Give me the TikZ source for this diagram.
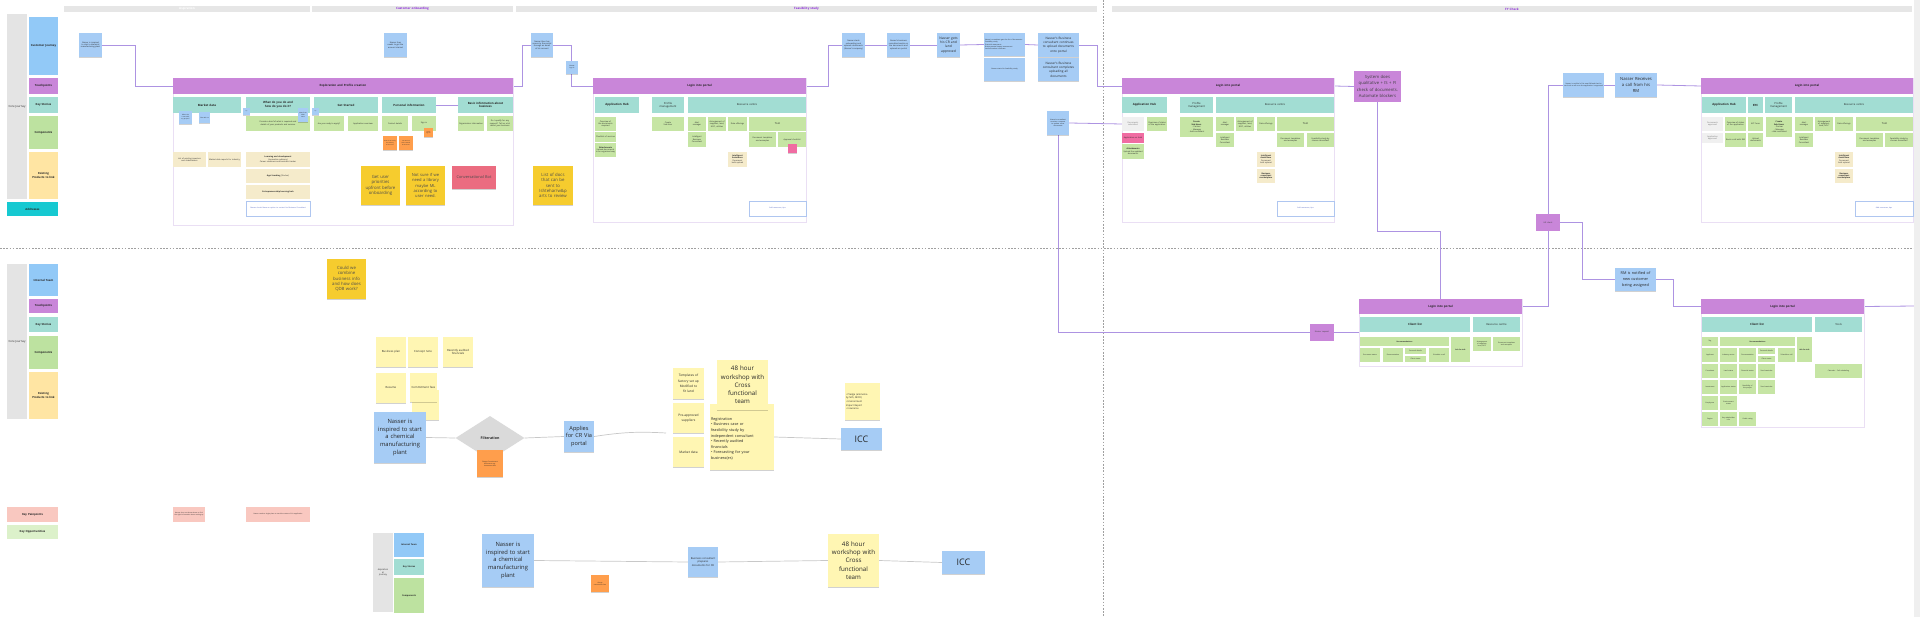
\documentclass[tikz,border=0pt]{standalone}
\usepackage{fontspec}
\setmainfont{Open Sans}
\usetikzlibrary{shapes.geometric,shadows}
\pgfdeclarelayer{bg}
\pgfsetlayers{bg,main}
\definecolor{cBlue}{HTML}{A6CCF5}
\definecolor{cLegBlue}{HTML}{92C9F7}
\definecolor{cPurp}{HTML}{C986D9}
\definecolor{cTeal}{HTML}{A2DDD3}
\definecolor{cGreen}{HTML}{C6E5A4}
\definecolor{cLegGreen}{HTML}{BDE2A0}
\definecolor{cLegYel}{HTML}{FFE5A3}
\definecolor{cBeige}{HTML}{F5EBCB}
\definecolor{cGold}{HTML}{F6CC2E}
\definecolor{cPale}{HTML}{FFF6B3}
\definecolor{cOrange}{HTML}{FF9E4C}
\definecolor{cRed}{HTML}{EB6C80}
\definecolor{cMag}{HTML}{F06CA2}
\definecolor{cPinkL}{HTML}{F9C8C0}
\definecolor{cGreenL}{HTML}{DCF1CA}
\definecolor{cGray}{HTML}{E4E4E4}
\definecolor{cGrayL}{HTML}{F0F0F0}
\definecolor{cCyan}{HTML}{16C9D1}
\definecolor{cLine}{HTML}{AD93E2}
\definecolor{cLineG}{HTML}{C8C8C8}
\definecolor{cHead}{HTML}{E6E6E6}
\definecolor{cHeadT}{HTML}{8B2BD8}
\definecolor{cFrame}{HTML}{EADFF4}
\definecolor{cOut}{HTML}{AFC6F0}
\definecolor{cOutT}{HTML}{4A5FC0}
\definecolor{cDia}{HTML}{DADADA}
\definecolor{cDash}{HTML}{A0A0A0}
\newcommand\fsz[2]{\fontsize{#1}{#2}\selectfont\lefthyphenmin=64\hyphenpenalty=10000 }
\newcommand\bx[7]{%
  \pgfmathsetmacro\bxW{#5-#3}%
  \pgfmathsetmacro\bxH{#6-#4}%
  \pgfmathsetmacro\bxX{(#3+#5)/2}%
  \pgfmathsetmacro\bxY{(#4+#6)/2}%
  \pgfmathsetmacro\bxT{max(#5-#3-2,1)}%
  \node[#1, minimum width=\bxW pt, minimum height=\bxH pt, text width=\bxT pt] (#2) at (\bxX,\bxY) {#7};}
\tikzset{
  base/.style={inner sep=1pt, align=center, text=black!85, font=\fsz{2}{2.4}},
  leg/.style={base, font=\fsz{2.8}{3.4}\bfseries},
  hbar/.style={base, fill=cHead, text=cHeadT, font=\fsz{3}{3.6}\bfseries},
  frm/.style={draw=cFrame, line width=0.7pt, inner sep=0pt},
  hdr/.style={base, fill=cPurp, font=\fsz{2.9}{3.5}\bfseries},
  tl/.style={base, fill=cTeal, font=\fsz{2.9}{3.5}\bfseries},
  tln/.style={base, fill=cTeal, font=\fsz{2.7}{3.3}},
  gr/.style={base, fill=cGreen},
  grs/.style={base, fill=cGreen, font=\fsz{1.7}{2.1}},
  gy/.style={base, fill=cGrayL, text=black!55},
  bge/.style={base, fill=cBeige},
  ob/.style={base, draw=cOut, line width=0.4pt, fill=white, text=cOutT, font=\fsz{1.8}{2.2}},
  stk/.style={base, fill=cBlue, drop shadow={shadow xshift=0.2pt, shadow yshift=-1.3pt, opacity=0.18, fill=black}},
  big/.style={stk, text=black!70, font=\fsz{4.3}{5.3}},
  pur/.style={base, fill=cPurp, text=black!75},
  conn/.style={draw=cLine, line width=0.8pt},
  gconn/.style={draw=cLineG, line width=0.7pt},
}
\begin{document}
\begin{tikzpicture}[x=1pt,y=-1pt]
\useasboundingbox (0,0) rectangle (1920,617);
\fill[cGray!60] (1914,0) rectangle (1920,617);
% ---------- phase bars
\bx{hbar, text=white}{ph1}{64}{6}{310}{12}{Aspiration}
\bx{hbar}{ph2}{312}{6}{513}{12}{Customer onboarding}
\bx{hbar}{ph3}{516}{6}{1097}{12}{Feasibility study}
\bx{hbar}{ph4}{1112}{6}{1912}{12}{FY Check}
% ---------- top legend
\bx{leg, fill=cGray, font=\fsz{2.8}{3.4}}{lCore}{7}{14}{27}{199}{Core Journey}
\bx{leg, fill=cLegBlue}{lCJ}{29}{17}{58}{75}{Customer Journey}
\bx{leg, fill=cPurp}{lTP}{29}{78}{58}{94}{Touchpoints}
\bx{leg, fill=cTeal}{lKS}{29}{97}{58}{113}{Key Stories}
\bx{leg, fill=cLegGreen}{lCo}{29}{116}{58}{149}{Components}
\bx{leg, fill=cLegYel}{lEP}{29}{152}{58}{199}{Existing Products to link}
\bx{leg, fill=cCyan}{lAd}{7}{202}{58}{216}{Addresses}
% ---------- bottom legend
\bx{leg, fill=cGray, font=\fsz{2.8}{3.4}}{bCore}{7}{264}{27}{419}{Core Journey}
\bx{leg, fill=cLegBlue}{bIT}{29}{264}{58}{296}{Internal Team}
\bx{leg, fill=cPurp}{bTP}{29}{299}{58}{313}{Touchpoints}
\bx{leg, fill=cTeal}{bKS}{29}{317}{58}{332}{Key Stories}
\bx{leg, fill=cLegGreen}{bCo}{29}{336}{58}{369}{Components}
\bx{leg, fill=cLegYel}{bEP}{29}{372}{58}{419}{Existing Products to link}
\bx{leg, fill=cPinkL}{bPain}{7}{507}{58}{522}{Key Painpoints}
\bx{leg, fill=cGreenL}{bOpp}{7}{525}{58}{539}{Key Opportunities}
\bx{base, fill=cPinkL, font=\fsz{1.6}{2}}{pp1}{173}{507}{205}{522}{Nasser does not know where to find the right information about setting up}
\bx{base, fill=cPinkL, font=\fsz{1.6}{2}}{pp2}{246}{507}{310}{522}{Nasser needs a single place to track the status of his application}
% ---------- aspirational legend
\bx{leg, fill=cGray, font=\fsz{2.2}{2.7}}{aCore}{373}{533}{393}{612}{Aspiration\\al\\Journey}
\bx{leg, fill=cLegBlue, font=\fsz{2.2}{2.7}\bfseries}{aIT}{394}{533}{424}{557}{Internal Team}
\bx{leg, fill=cTeal, font=\fsz{2.2}{2.7}\bfseries}{aKS}{394}{559}{424}{575}{Key Stories}
\bx{leg, fill=cLegGreen, font=\fsz{2.2}{2.7}\bfseries}{aCo}{394}{578}{424}{613}{Components}
% ---------- frame 1: exploration
\bx{stk}{s1}{79}{33}{102}{57}{Nasser is inspired to start a chemical manufacturing plant}
\bx{frm}{fr1}{173}{78}{513}{225}{}
\bx{hdr}{h1}{173}{78}{513}{94}{Exploration and Profile creation}
\bx{tl}{k11}{173}{97}{241}{113}{Market data}
\bx{tl}{k12}{246}{97}{310}{113}{What do you do and\\how do you do it?}
\bx{tl}{k13}{314}{97}{378}{113}{Get Started}
\bx{tl}{k14}{382}{97}{436}{113}{Personal information}
\bx{tl}{k15}{458}{97}{513}{113}{Basic information about\\business}
\bx{gr}{g11}{246}{116}{310}{131}{Provide a brief of what is required and details of your products and services}
\bx{gr}{g12}{314}{116}{344}{131}{Are you ready to apply?}
\bx{gr}{g13}{348}{116}{378}{131}{Application overview}
\bx{gr}{g14}{382}{116}{408}{131}{Contact details}
\bx{gr}{g15}{412}{116}{436}{131}{Sign in}
\bx{gr}{g16}{458}{116}{484}{131}{Organisation information}
\bx{gr}{g17}{487}{116}{513}{131}{Do I qualify for any support? Tell us a bit about your business}
\bx{stk, font=\fsz{1.5}{1.9}}{b11}{179}{111}{192}{124}{Where do I start with my project?}
\bx{stk, font=\fsz{1.5}{1.9}}{b12}{199}{112}{210}{123}{Chat with us}
\bx{stk, font=\fsz{1.2}{1.5}}{b13}{243}{108}{250}{115}{Tip}
\bx{stk, font=\fsz{1.5}{1.9}}{b14}{298}{108}{308}{122}{Ideas from other users}
\bx{stk, font=\fsz{1.2}{1.5}}{b15}{312}{108}{319}{115}{Tip}
\bx{stk, fill=cOrange, font=\fsz{1.4}{1.8}}{o11}{383}{136}{397}{150}{How do we verify the identity of the user?}
\bx{stk, fill=cOrange, font=\fsz{1.4}{1.8}}{o12}{399}{136}{413}{150}{Can we link with national ID services?}
\bx{stk, fill=cOrange, font=\fsz{1.3}{1.6}}{o13}{424}{128}{433}{137}{Single sign on}
\bx{bge}{e11}{173}{152}{206}{167}{List of existing investors and stakeholders}
\bx{bge}{e12}{208}{152}{241}{167}{Market data reports for industry}
\bx{bge}{e13}{246}{152}{310}{167}{\textbf{Learning and development}\\(Innovation advisory)\\Career readiness and business tracker}
\bx{bge}{e14}{246}{169}{310}{183}{\textbf{Appl tracking} (Tracker)}
\bx{bge}{e15}{246}{185}{310}{199}{\textbf{Entrepreneurship learning hub}}
\bx{ob}{w11}{246}{201}{310}{216}{Nasser should have an option to contact his Business Consultant}
\bx{big, fill=cGold}{y11}{361}{166}{400}{205}{Get user\\priorities\\upfront before\\onboarding}
\bx{big, fill=cGold, font=\fsz{4.1}{5.2}}{y12}{406}{166}{445}{205}{Not sure if we\\need a library\\maybe ML\\according to\\user need.}
\bx{big, fill=cRed, font=\fsz{3.9}{4.8}}{r11}{452}{166}{496}{189}{Conversational Bot}
\bx{stk}{s2}{384}{33}{407}{57}{Nasser then needs to get the account started}
% ---------- frame 2: login
\bx{stk}{s3}{531}{33}{553}{57}{Nasser then has access to the portal through an email of his account}
\bx{stk, font=\fsz{1.6}{2}}{s4}{566}{61}{578}{74}{Nasser logs in}
\bx{frm}{fr2}{593}{78}{806}{222}{}
\bx{hdr}{h2}{593}{78}{806}{94}{Login into portal}
\bx{tl}{k21}{595}{97}{639}{113}{Application Hub}
\bx{tln}{k22}{652}{97}{684}{113}{Profile\\management}
\bx{tln}{k23}{688}{97}{806}{113}{Resource centre}
\bx{gr}{g21}{595}{117}{616}{131}{Overview of the documents required}
\bx{gr}{g22}{595}{132}{616}{142}{Checklist of services}
\bx{gr}{g23}{595}{143}{616}{157}{\textbf{Attachments}\\Upload documents in an organised way}
\bx{gr}{g24}{652}{117}{684}{131}{Create\\Sub-User}
\bx{gr}{g25}{688}{117}{706}{131}{Alert\\manager}
\bx{gr}{g26}{688}{132}{706}{147}{Intelligent Business Consultant}
\bx{gr}{g27}{708}{117}{726}{131}{Arrangement of suppliers, land, NOC, utilities}
\bx{gr}{g28}{728}{117}{747}{131}{Data offerings}
\bx{gr, font=\fsz{2.6}{3}}{g29}{749}{117}{806}{131}{Tool}
\bx{gr}{g2a}{749}{132}{776}{147}{Document templates and examples}
\bx{gr}{g2b}{778}{132}{806}{147}{Approval checklist}
\bx{stk, fill=cMag}{m21}{788}{144}{797}{153}{}
\bx{bge}{e21}{728}{152}{747}{167}{\textbf{Intelligent Assistance}\\Document bulk upload}
\bx{ob}{w21}{749}{201}{806}{216}{Add resources, tips}
\bx{big, fill=cGold}{y21}{533}{166}{573}{205}{List of docs\\that can be\\sent to\\Ishtehar/w\&p\\arts to review}
% ---------- feasibility stickies
\bx{stk}{s5}{842}{33}{865}{57}{Nasser starts onboarding and uploads documents (Nasser's company)}
\bx{stk}{s6}{887}{33}{910}{57}{Nasser's business consultant works on the documents and uploads on portal}
\bx{stk, font=\fsz{3.3}{4.4}}{s7}{937}{33}{960}{57}{Nasser gets\\his CR and\\land\\approved}
\bx{stk, align=left, font=\fsz{1.7}{2.2}}{s8}{984}{33}{1025}{56}{Nasser's consultant gets the list of documents:\\Feasibility study\\Financial statements\\Environmental impact assessment\\Land allocation certificate}
\bx{stk, font=\fsz{1.7}{2.2}}{s8b}{984}{58}{1025}{81}{Nasser starts his feasibility study}
\bx{stk, font=\fsz{3.1}{4.3}}{s9}{1038}{33}{1079}{57}{Nasser's Business\\consultant continues\\to upload documents\\onto portal}
\bx{stk, font=\fsz{3.1}{4.3}}{s9b}{1038}{58}{1079}{81}{Nasser's Business\\consultant completes\\uploading all\\documents}
\bx{stk, font=\fsz{1.7}{2.2}}{s10}{1047}{111}{1069}{135}{Nasser's consultant receives a request to update some documents}
% ---------- frame 3
\bx{frm}{fr3}{1122}{78}{1334}{222}{}
\bx{hdr}{h3}{1122}{78}{1334}{94}{Login into portal}
\bx{tl}{k31}{1122}{97}{1167}{113}{Application Hub}
\bx{tln}{k32}{1180}{97}{1213}{113}{Profile\\management}
\bx{tln}{k33}{1216}{97}{1334}{113}{Resource centre}
\bx{gy}{gy31}{1122}{117}{1144}{131}{Documents submitted}
\bx{gr}{g31}{1147}{117}{1167}{131}{Overview of status of the application}
\bx{base, fill=cMag}{m31}{1122}{133}{1144}{143}{Application on hold}
\bx{gr}{g32}{1122}{144}{1144}{159}{\textbf{Attachments}\\Upload the updated documents}
\bx{gr}{g33}{1180}{117}{1213}{137}{\textbf{Create\\Sub-Users}\\- Partner\\- Manager\\- Add consultant}
\bx{gr}{g34}{1216}{117}{1234}{131}{Alert\\manager}
\bx{gr}{g35}{1216}{133}{1234}{147}{Intelligent Business Consultant}
\bx{gr}{g36}{1236}{117}{1254}{131}{Arrangement of suppliers, land, NOC, utilities}
\bx{gr}{g37}{1257}{117}{1275}{131}{Data offerings}
\bx{gr, font=\fsz{2.6}{3}}{g38}{1277}{117}{1334}{131}{Tool}
\bx{gr}{g39}{1277}{133}{1304}{147}{Document templates and examples}
\bx{gr}{g3a}{1307}{133}{1334}{147}{Feasibility study by chosen consultant}
\bx{bge}{e31}{1257}{152}{1275}{167}{\textbf{Intelligent Assistance}\\Document bulk upload}
\bx{bge}{e32}{1257}{169}{1275}{183}{\textbf{Business consultant marketplace}}
\bx{ob}{w31}{1277}{201}{1334}{216}{Add resources, tips}
\bx{pur, font=\fsz{4.2}{6.2}}{sys}{1354}{71}{1401}{102}{System does\\qualitative + IS + FI\\check of documents.\\Automate blockers}
% ---------- FY check top
\bx{pur, font=\fsz{2}{2.4}}{hr}{1536}{214}{1560}{231}{HR check}
\bx{stk, font=\fsz{1.7}{2.2}}{s11}{1563}{73}{1604}{97}{Nasser is notified of his new RM and that he can book a call once the application is approved}
\bx{stk, font=\fsz{4.2}{5.6}}{s12}{1615}{73}{1657}{97}{Nasser Receives\\a call from his\\RM}
\bx{frm}{fr6}{1701}{78}{1913}{222}{}
\bx{hdr}{h6}{1701}{78}{1913}{94}{Login into portal}
\bx{tl}{k61}{1702}{97}{1746}{113}{Application Hub}
\bx{tl}{k62}{1748}{97}{1763}{113}{KYC}
\bx{tln}{k63}{1765}{97}{1792}{113}{Profile\\management}
\bx{tln}{k64}{1795}{97}{1913}{113}{Resource centre}
\bx{gy}{gy61}{1702}{117}{1723}{131}{Documents approved}
\bx{gy}{gy62}{1702}{133}{1723}{143}{Application approved}
\bx{gr}{g61}{1725}{117}{1746}{131}{Overview of status of the application}
\bx{gr}{g62}{1725}{133}{1746}{147}{Book a call with RM}
\bx{gr}{g63}{1748}{117}{1763}{131}{KYC form}
\bx{gr}{g64}{1748}{133}{1763}{147}{Upload documents}
\bx{gr}{g65}{1766}{117}{1792}{137}{\textbf{Create\\Sub-Users}\\- Partner\\- Manager\\- Add consultant}
\bx{gr}{g66}{1795}{117}{1813}{131}{Alert\\manager}
\bx{gr}{g67}{1795}{133}{1813}{147}{Intelligent Business Consultant}
\bx{gr}{g68}{1815}{117}{1833}{131}{Arrangement of suppliers, land, NOC}
\bx{gr}{g69}{1835}{117}{1853}{131}{Data offerings}
\bx{gr, font=\fsz{2.6}{3}}{g6a}{1856}{117}{1913}{131}{Tool}
\bx{gr}{g6b}{1856}{133}{1883}{147}{Document templates and examples}
\bx{gr}{g6c}{1885}{133}{1913}{147}{Feasibility study by chosen consultant}
\bx{bge}{e61}{1835}{152}{1853}{167}{\textbf{Intelligent Assistance}\\Document bulk upload}
\bx{bge}{e62}{1835}{169}{1853}{183}{\textbf{Business consultant marketplace}}
\bx{ob}{w61}{1855}{201}{1913}{216}{Add resources, tips}
\coordinate (edgeA) at (1916,86);
% ---------- frame 4 (bottom)
\bx{pur, font=\fsz{2}{2.4}}{nr}{1310}{324}{1334}{341}{Nasser request}
\bx{frm}{fr4}{1359}{299}{1522}{366}{}
\bx{hdr}{h4}{1359}{299}{1522}{314}{Login into portal}
\bx{tl}{k41}{1360}{317}{1470}{332}{Client list}
\bx{tln}{k42}{1473}{317}{1520}{332}{Resource centre}
\bx{grs}{g41}{1360}{337}{1449}{346}{\textbf{Recommendations}}
\bx{grs}{g42}{1451}{337}{1470}{362}{\textbf{Ask for info}}
\bx{grs}{g43}{1360}{348}{1380}{362}{Document status}
\bx{grs}{g44}{1383}{348}{1403}{362}{Documentation}
\bx{grs}{g45}{1405}{348}{1426}{354}{Personal details}
\bx{grs}{g46}{1405}{356}{1426}{362}{Client status}
\bx{grs}{g47}{1429}{348}{1449}{362}{Schedule a call}
\bx{grs}{g48}{1473}{337}{1491}{351}{Arrangement of suppliers, land, NOC}
\bx{grs}{g49}{1493}{337}{1520}{351}{Document templates and examples}
% ---------- frame 5 (bottom)
\bx{stk, font=\fsz{3.8}{5.6}}{rm}{1615}{268}{1656}{291}{RM is notified of\\new customer\\being assigned}
\bx{frm}{fr5}{1701}{299}{1864}{427}{}
\bx{hdr}{h5}{1701}{299}{1864}{314}{Login into portal}
\bx{tl}{k51}{1702}{317}{1812}{332}{Client list}
\bx{tln}{k52}{1815}{317}{1862}{332}{Tools}
\bx{grs}{fa1}{1702}{337}{1718}{346}{Tag}
\bx{grs}{fa2}{1720}{337}{1795}{346}{\textbf{Recommendations}}
\bx{grs}{fa3}{1797}{337}{1812}{362}{\textbf{Ask for info}}
\bx{grs}{fb1}{1702}{348}{1718}{362}{Applicant}
\bx{grs}{fb2}{1720}{348}{1737}{362}{Industry sector}
\bx{grs}{fb3}{1739}{348}{1756}{362}{Documentation}
\bx{grs}{fb4}{1758}{348}{1775}{354}{Personal details}
\bx{grs}{fb5}{1758}{356}{1775}{362}{Client status}
\bx{grs}{fb6}{1778}{348}{1795}{362}{Schedule a call}
\bx{grs}{fc1}{1702}{364}{1718}{378}{Consultant}
\bx{grs}{fc2}{1720}{364}{1737}{378}{Land status}
\bx{grs}{fc3}{1739}{364}{1756}{378}{Financial status}
\bx{grs}{fc4}{1758}{364}{1775}{378}{Send reminder}
\bx{grs}{fd1}{1702}{380}{1718}{394}{Investment}
\bx{grs}{fd2}{1720}{380}{1737}{394}{Application status}
\bx{grs}{fd3}{1739}{380}{1756}{394}{Feasibility of the project}
\bx{grs}{fd4}{1758}{380}{1775}{394}{Send reminder}
\bx{grs}{fe1}{1702}{396}{1718}{410}{Employees}
\bx{grs}{fe2}{1720}{396}{1737}{410}{Environment status}
\bx{grs}{ff1}{1702}{412}{1718}{426}{Region}
\bx{grs}{ff2}{1720}{412}{1737}{426}{Key stakeholder info}
\bx{grs}{ff3}{1739}{412}{1756}{426}{Credit rating}
\bx{grs}{ft1}{1815}{364}{1862}{378}{Calendar -- Call scheduling}
\coordinate (edgeB) at (1916,306);
% ---------- bottom-left sticky flow
\bx{big, fill=cGold}{q1}{327}{259}{366}{299}{Could we\\combine\\business info\\and how does\\QDB work?}
\bx{stk, fill=cPale, font=\fsz{2.8}{3.6}}{bp}{376}{337}{406}{367}{Business plan}
\bx{stk, fill=cPale, font=\fsz{2.8}{3.6}}{cn}{408}{337}{438}{367}{Concept note}
\bx{stk, fill=cPale, font=\fsz{2.8}{3.6}}{raf}{443}{337}{473}{367}{Recently audited financials}
\bx{stk, fill=cPale, font=\fsz{2.8}{3.6}}{rs}{376}{373}{406}{403}{Resume}
\bx{stk, fill=cPale}{cfb}{412}{390}{439}{420}{}
\bx{stk, fill=cPale, font=\fsz{2.8}{3.6}}{cf}{410}{373}{437}{402}{Commitment fees}
\bx{stk, font=\fsz{5.8}{7.8}}{ns}{374}{412}{426}{463}{Nasser is\\inspired to start\\a chemical\\manufacturing\\plant}
\node[diamond, fill=cDia, minimum width=69pt, minimum height=44pt, inner sep=0pt, aspect=1.57, font=\fsz{3.6}{4.3}\bfseries, text=black!85] (filt) at (490,438) {Filteration};
\bx{stk, fill=cOrange, font=\fsz{1.6}{2}}{or1}{477}{450}{503}{477}{Charge Commitment documents e.g. investment fees}
\bx{stk, font=\fsz{5.6}{7.3}}{ap}{564}{421}{594}{452}{Applies\\for CR Via\\portal}
\bx{stk, fill=cPale, font=\fsz{3.2}{5.2}}{tp}{673}{368}{704}{399}{Templates of\\factory set up\\Modified to\\fit land}
\bx{stk, fill=cPale, font=\fsz{3.2}{5.2}}{pa}{673}{403}{704}{433}{Pre-approved suppliers}
\bx{stk, fill=cPale, font=\fsz{3.2}{5.2}}{md}{673}{437}{704}{467}{Market data}
\bx{stk, fill=cPale, align=left, font=\fsz{3.8}{5.6}}{rg}{710}{404}{774}{470}{\\[1pt]Registration\\• Business case or\\feasibility study by\\independent consultant\\• Recently audited\\financials\\• Forecasting for your\\business(es)}
\bx{stk, fill=cPale, font=\fsz{6.2}{8.3}}{wk}{717}{360}{768}{410}{48 hour\\workshop with\\Cross\\functional\\team}
\bx{stk, fill=cPale, align=left, font=\fsz{2.4}{3.6}}{pl}{845}{383}{880}{420}{• Pledge (ammonia\\by NFS, MOCI)\\• Environment\\Impact Report\\• Insurance}
\bx{stk, font=\fsz{9}{10}}{icc}{841}{428}{882}{450}{ICC}
\coordinate (grpin) at (666,433);
% ---------- aspirational journey row
\bx{stk, font=\fsz{5.8}{7.8}}{ns2}{482}{534}{534}{587}{Nasser is\\inspired to start\\a chemical\\manufacturing\\plant}
\bx{stk, fill=cOrange, font=\fsz{1.5}{1.9}}{or2}{591}{575}{609}{592}{Charge commitment fees}
\bx{stk, font=\fsz{2.6}{3.4}}{bc}{688}{547}{718}{577}{Business consultant prepares documents for CR}
\bx{stk, fill=cPale, font=\fsz{6.2}{8.3}}{wk2}{828}{534}{879}{587}{48 hour\\workshop with\\Cross\\functional\\team}
\bx{stk, font=\fsz{9}{10}}{icc2}{942}{551}{985}{574}{ICC}
% ---------- connectors and separators
\begin{pgfonlayer}{bg}
\fill[white] (0,0) rectangle (1914,617);
\draw[cDash, line width=0.9pt, dash pattern=on 1.6pt off 1.6pt] (0,248) -- (1914,248);
\draw[cDash, line width=0.9pt, dash pattern=on 1.6pt off 1.6pt] (1103,0) -- (1103,617);
\draw[conn] (s1.east) -- ++(33,0) |- (h1.west);
\draw[conn] (k14.east) -- (k15.west);
\draw[conn] (h1.east) -- ++(9,0) |- (s3.west);
\draw[conn] (s3.east) -- ++(18,0) |- (h2.west);
\draw[conn] (h2.east) -- ++(22,0) |- (s5.west);
\draw[conn] (s5.east) -- (s6.west);
\draw[conn] (s6.east) -- (s7.west);
\draw[conn] (s7.east) -- (s8.west);
\draw[conn] (s8.east) -- (s9.west);
\draw[conn] (s9.east) -- ++(18,0) |- (h3.west);
\draw[conn] (s10.east) -- (gy31.west);
\draw[conn] (s10.south) |- (nr.west);
\draw[conn] (h3.east) -- (sys.west);
\draw[conn] (sys.south) -- ++(0,129) -| (h4.north);
\draw[conn] (nr.east) -- (fr4.west);
\draw[conn] (h4.east) -| (hr.south);
\draw[conn] (hr.north) |- (s11.west);
\draw[conn] (hr.east) -- ++(22,0) |- (rm.west);
\draw[conn] (s11.east) -- (s12.west);
\draw[conn] (s12.east) -- (h6.west);
\draw[conn] (h6.east) -- (edgeA);
\draw[conn] (rm.east) -- ++(17,0) |- (h5.west);
\draw[conn] (h5.east) -- (edgeB);
\draw[gconn] (ns.east) -- (filt.west);
\draw[gconn] (filt.east) -- (ap.west);
\draw[gconn] (ap.east) to[bend left=6] (grpin);
\draw[gconn] (rg.east) -- (icc.west);
\draw[gconn] (ns2.east) -- (bc.west);
\draw[gconn] (bc.east) -- (wk2.west);
\draw[gconn] (wk2.east) -- (icc2.west);
\end{pgfonlayer}
\end{tikzpicture}
\end{document}
